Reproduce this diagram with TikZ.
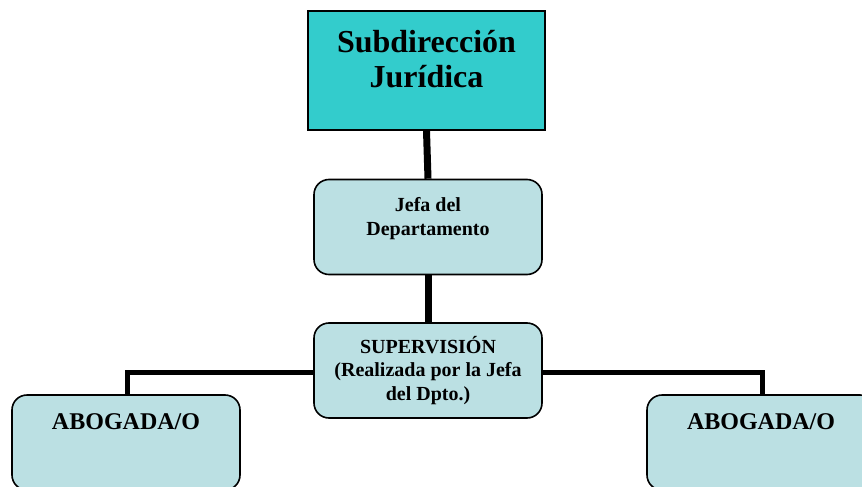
\documentclass[tikz,border=0pt]{standalone}
\usepackage{fontspec}
\setmainfont{Liberation Serif}
\usetikzlibrary{positioning}
\definecolor{headfill}{RGB}{51,204,204}
\definecolor{cardfill}{RGB}{187,224,227}
\tikzset{
    headbox/.style={rectangle, draw=black, line width=1.6pt, fill=headfill, minimum width=237pt, minimum height=119pt},
    unitbox/.style={rectangle, rounded corners=15pt, draw=black, line width=1.6pt, fill=cardfill, minimum width=228pt, minimum height=95pt, align=center, font=\fontsize{20}{23.5}\selectfont\bfseries},
    headtext/.style={align=center, font=\fontsize{32}{35}\selectfont\bfseries},
    cardtext/.style={align=center, font=\fontsize{20}{24}\selectfont\bfseries},
    bigtext/.style={font=\fontsize{24}{28}\selectfont\bfseries},
    trunk/.style={line width=7pt, draw=black},
    branch/.style={line width=5pt, draw=black}
}
\begin{document}
\begin{tikzpicture}[x=1pt, y=-1pt]
    \useasboundingbox (0,0) rectangle (862,487);
    \clip (0,0) rectangle (862,487);
    % Corners of the branches
    \coordinate (lcorner) at (127,372);
    \coordinate (rcorner) at (762,372);
    % Boxes
    \node (subdir) [headbox] at (426.5,70.5) {};
    \node (jefa) [unitbox] at (428,227) {};
    \node (superv) [unitbox] at (428,370.5) {SUPERVISIÓN\\(Realizada por la Jefa\\del Dpto.)};
    \node (abogl) [unitbox] at (126,442.5) {};
    \node (abogr) [unitbox] at (761,442.5) {};
    % Texts
    \node (subdirtext) [headtext, below=17pt of subdir.north] {Subdirección\\Jurídica};
    \node (jefatext) [cardtext, below=15pt of jefa.north] {Jefa del\\Departamento};
    \node (abogltext) [bigtext, below=16pt of abogl.north] {ABOGADA/O};
    \node (abogrtext) [bigtext, below=16pt of abogr.north] {ABOGADA/O};
    % Lines
    \draw [trunk] (subdir.south) -- (jefa.north);
    \draw [trunk] (jefa.south) -- (superv.north);
    \draw [branch] (superv.west |- lcorner) -- (lcorner) -- (abogl.north -| lcorner);
    \draw [branch] (superv.east |- rcorner) -- (rcorner) -- (abogr.north -| rcorner);
\end{tikzpicture}
\end{document}
